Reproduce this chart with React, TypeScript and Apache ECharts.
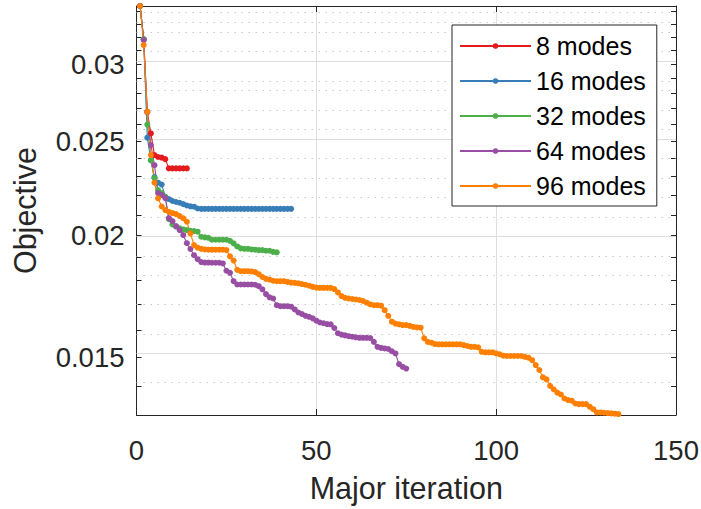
import React, { useEffect, useRef } from "react";
import * as echarts from "echarts";

// ---- Data (objective value per major iteration, iteration = index + 1) ----
const seriesNames = ["8 modes", "16 modes", "32 modes", "64 modes", "96 modes"];
const seriesColors = ["#e41a1c", "#377eb8", "#4daf4a", "#984ea3", "#ff7f00"];

const modes8 = [
  0.03442, 0.03181, 0.0268, 0.02546, 0.02419, 0.02408, 0.02405, 0.02396, 0.02344, 0.02344,
  0.02344, 0.02344, 0.02344, 0.02344,
];

const modes16 = [
  0.03442, 0.03181, 0.02521, 0.02389, 0.02296, 0.02266, 0.02256, 0.02192, 0.0218, 0.0217,
  0.02165, 0.02161, 0.02154, 0.02147, 0.02143, 0.02141, 0.02132, 0.0213, 0.0213, 0.0213,
  0.0213, 0.0213, 0.0213, 0.0213, 0.0213, 0.0213, 0.0213, 0.0213, 0.0213, 0.0213,
  0.0213, 0.0213, 0.0213, 0.0213, 0.0213, 0.0213, 0.0213, 0.0213, 0.0213, 0.0213,
  0.0213, 0.0213, 0.0213,
];

const modes32 = [
  0.03442, 0.03181, 0.026, 0.0239, 0.02291, 0.02227, 0.02211, 0.02192, 0.02079, 0.02053,
  0.02042, 0.02034, 0.02029, 0.02026, 0.02022, 0.02021, 0.02018, 0.01994, 0.01991, 0.01989,
  0.0198, 0.0198, 0.0198, 0.0198, 0.0198, 0.01975, 0.01963, 0.01949, 0.0194, 0.01938,
  0.01938, 0.01935, 0.01934, 0.01932, 0.01932, 0.01929, 0.01929, 0.01924, 0.01922,
];

const modes64 = [
  0.03442, 0.03175, 0.02678, 0.02477, 0.02362, 0.02211, 0.02201, 0.02185, 0.02084, 0.02069,
  0.02045, 0.02026, 0.02002, 0.01964, 0.01937, 0.01909, 0.01891, 0.01878, 0.01876, 0.01876,
  0.01875, 0.01875, 0.01875, 0.01872, 0.0184, 0.01831, 0.01795, 0.01781, 0.01781, 0.01781,
  0.01781, 0.01781, 0.0178, 0.01774, 0.01761, 0.01741, 0.01728, 0.01723, 0.01696, 0.01692,
  0.01692, 0.01692, 0.0169, 0.01679, 0.01667, 0.01661, 0.01654, 0.0165, 0.01644, 0.01635,
  0.01628, 0.01625, 0.01622, 0.01621, 0.01607, 0.01587, 0.01582, 0.01579, 0.01576, 0.01574,
  0.01572, 0.0157, 0.0157, 0.0157, 0.01569, 0.01555, 0.01537, 0.01533, 0.01531, 0.01529,
  0.01521, 0.01513, 0.01475, 0.01466, 0.0146,
];

const modes96 = [
  0.03442, 0.03138, 0.0268, 0.02419, 0.02266, 0.02184, 0.02142, 0.02124, 0.02115, 0.02109,
  0.02104, 0.02094, 0.02083, 0.02066, 0.0201, 0.01955, 0.01943, 0.01938, 0.01935, 0.01934,
  0.01934, 0.01934, 0.01934, 0.01934, 0.01932, 0.01904, 0.01885, 0.01844, 0.01838, 0.01838,
  0.01838, 0.01837, 0.01834, 0.01825, 0.01813, 0.01805, 0.01802, 0.01797, 0.01795, 0.01795,
  0.01795, 0.01792, 0.01789, 0.01788, 0.01786, 0.01783, 0.0178, 0.01776, 0.01771, 0.01768,
  0.01767, 0.01767, 0.01767, 0.01767, 0.01762, 0.01748, 0.01733, 0.01726, 0.01723, 0.01721,
  0.01719, 0.01717, 0.01713, 0.01706, 0.01699, 0.01696, 0.01696, 0.01694, 0.01676, 0.01654,
  0.01631, 0.01624, 0.01621, 0.01618, 0.01618, 0.01615, 0.01611, 0.01609, 0.01608, 0.01568,
  0.01555, 0.01552, 0.01547, 0.01546, 0.01546, 0.01546, 0.01546, 0.01546, 0.01546, 0.01546,
  0.01543, 0.0154, 0.01537, 0.01537, 0.01535, 0.01519, 0.01517, 0.01517, 0.01517, 0.01513,
  0.0151, 0.01505, 0.01504, 0.01504, 0.01504, 0.01504, 0.01504, 0.01501, 0.01498, 0.01489,
  0.01472, 0.01455, 0.0143, 0.01423, 0.01401, 0.0139, 0.01379, 0.01373, 0.0136, 0.01355,
  0.01353, 0.01344, 0.01342, 0.01342, 0.01342, 0.01334, 0.01326, 0.01316, 0.01316, 0.01315,
  0.01314, 0.01313, 0.01312, 0.01311,
];

const allSeries = [modes8, modes16, modes32, modes64, modes96];

// ---- Axes ----
const xMin = 0;
const xMax = 150;
const xInterval = 50;
const yMin = 0.01308;
const yMax = 0.03442;
const yMajorTicks = [0.015, 0.02, 0.025, 0.03];
const yMajorLabels = ["0.015", "0.02", "0.025", "0.03"];
const yMinorTicks = [
  0.014, 0.016, 0.017, 0.018, 0.019, 0.021, 0.022, 0.023, 0.024, 0.026, 0.027, 0.028, 0.029,
  0.031, 0.032, 0.033, 0.034,
];

const FONT = '"Liberation Sans", Arial, Helvetica, sans-serif';
const AXIS_COLOR = "#262626";
const lg = (v: number) => Math.log10(v);

function yLabel(v: number): string {
  let best = 0;
  for (let i = 1; i < yMajorTicks.length; i++) {
    if (Math.abs(lg(yMajorTicks[i]) - v) < Math.abs(lg(yMajorTicks[best]) - v)) best = i;
  }
  return yMajorLabels[best];
}

function buildOption() {
  const allTicks = [...yMajorTicks, ...yMinorTicks].map(lg);
  const baseY = {
    type: "value" as const,
    min: lg(yMin),
    max: lg(yMax),
    axisLine: { show: true, onZero: false, lineStyle: { color: AXIS_COLOR, width: 1 } },
    axisTick: {
      show: true,
      inside: true,
      length: 5,
      customValues: allTicks,
      lineStyle: { color: AXIS_COLOR, width: 1 },
    },
    splitLine: { show: false },
    minorTick: { show: false },
  };

  const gridLines = [
    ...yMajorTicks.map((v) => ({
      yAxis: lg(v),
      lineStyle: { color: "#dedede", width: 1, type: "solid" },
    })),
    ...yMinorTicks.map((v) => ({
      yAxis: lg(v),
      lineStyle: { color: "#c8c8c8", width: 1, type: [1.5, 5.5] },
    })),
  ];

  return {
    animation: false,
    backgroundColor: "#ffffff",
    textStyle: { fontFamily: FONT },
    grid: {
      left: 136.5,
      right: 25,
      top: 6,
      bottom: 94,
      containLabel: false,
      outerBoundsMode: "none",
    },
    legend: {
      data: seriesNames,
      orient: "vertical",
      left: 452,
      top: 25,
      padding: [8.5, 11, 7.5, 7],
      itemGap: 10,
      itemWidth: 71,
      itemHeight: 7,
      backgroundColor: "#ffffff",
      borderColor: AXIS_COLOR,
      borderWidth: 1,
      borderRadius: 0,
      selectedMode: false,
      textStyle: { fontSize: 25, color: "#000000", fontFamily: FONT },
    },
    xAxis: [
      {
        type: "value",
        min: xMin,
        max: xMax,
        interval: xInterval,
        position: "bottom",
        name: "Major iteration",
        nameLocation: "middle",
        nameGap: 57,
        nameTextStyle: { fontSize: 30.5, color: AXIS_COLOR, fontFamily: FONT },
        axisLine: { show: true, onZero: false, lineStyle: { color: AXIS_COLOR, width: 1 } },
        axisTick: { show: true, inside: true, length: 6, lineStyle: { color: AXIS_COLOR } },
        axisLabel: {
          fontSize: 27.5,
          color: AXIS_COLOR,
          fontFamily: FONT,
          margin: 21,
          showMinLabel: true,
          showMaxLabel: true,
        },
        splitLine: { show: true, lineStyle: { color: "#dedede", width: 1 } },
      },
      {
        type: "value",
        min: xMin,
        max: xMax,
        interval: xInterval,
        position: "top",
        axisLine: { show: true, onZero: false, lineStyle: { color: AXIS_COLOR, width: 1 } },
        axisTick: { show: true, inside: true, length: 6, lineStyle: { color: AXIS_COLOR } },
        axisLabel: { show: false },
        splitLine: { show: false },
      },
    ],
    yAxis: [
      {
        ...baseY,
        position: "left",
        name: "Objective",
        nameLocation: "middle",
        nameGap: 96,
        nameTextStyle: { fontSize: 30.5, color: AXIS_COLOR, fontFamily: FONT },
        axisLabel: {
          show: true,
          customValues: yMajorTicks.map(lg),
          formatter: (v: number) => yLabel(v),
          fontSize: 27.5,
          color: AXIS_COLOR,
          fontFamily: FONT,
          margin: 12,
        },
      },
      {
        ...baseY,
        position: "right",
        axisLabel: { show: false },
      },
    ],
    series: [
      {
        name: "__grid",
        type: "line",
        data: [],
        xAxisIndex: 0,
        yAxisIndex: 0,
        silent: true,
        z: 1,
        markLine: {
          silent: true,
          z: 1,
          symbol: ["none", "none"],
          label: { show: false },
          emphasis: { disabled: true },
          animation: false,
          data: gridLines,
        },
      },
      ...allSeries.map((vals, si) => ({
        name: seriesNames[si],
        type: "line",
        xAxisIndex: 0,
        yAxisIndex: 0,
        z: 3,
        data: vals.map((v, i) => [i + 1, lg(v)]),
        symbol: "circle",
        symbolSize: 6,
        showSymbol: true,
        clip: false,
        color: seriesColors[si],
        lineStyle: { color: seriesColors[si], width: 1.1 },
        itemStyle: { color: seriesColors[si] },
        emphasis: { disabled: true },
      })),
    ],
  };
}

export default function App() {
  const ref = useRef<HTMLDivElement>(null);
  useEffect(() => {
    if (!ref.current) return;
    const chart = echarts.init(ref.current, null, { renderer: "svg" });
    chart.setOption(buildOption() as any);
    return () => chart.dispose();
  }, []);
  return (
    <div
      ref={ref}
      style={{ position: "absolute", left: 0, top: 0, width: 701, height: 509, background: "#fff" }}
    />
  );
}
